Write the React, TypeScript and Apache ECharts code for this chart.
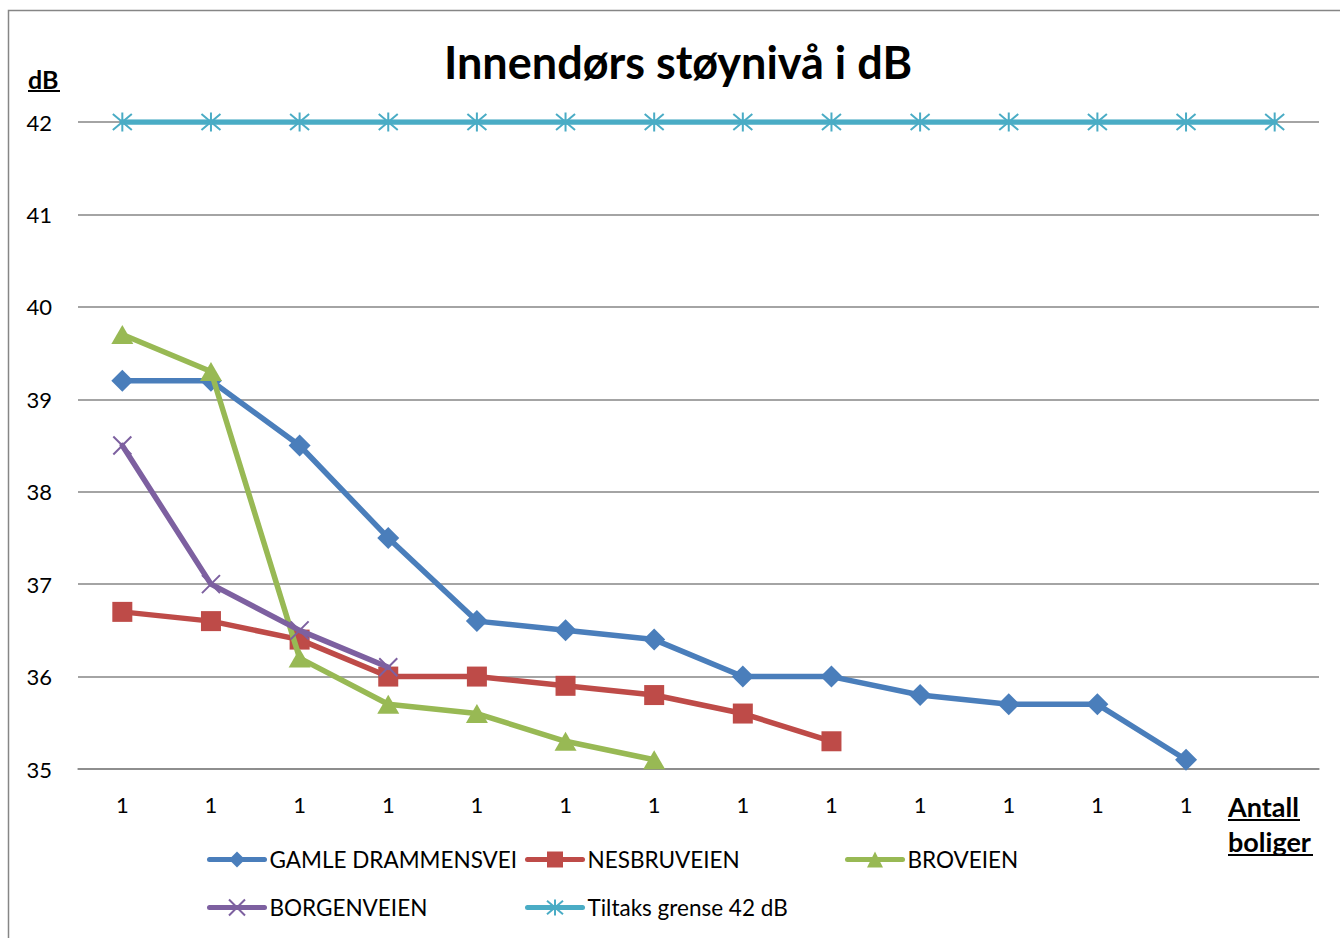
import React, { useEffect, useRef } from "react";
import * as echarts from "echarts";

const categories = ["1", "1", "1", "1", "1", "1", "1", "1", "1", "1", "1", "1", "1", ""];
const gamleDrammensvei = [39.2, 39.2, 38.5, 37.5, 36.6, 36.5, 36.4, 36.0, 36.0, 35.8, 35.7, 35.7, 35.1];
const nesbruveien = [36.7, 36.6, 36.4, 36.0, 36.0, 35.9, 35.8, 35.6, 35.3];
const broveien = [39.7, 39.3, 36.2, 35.7, 35.6, 35.3, 35.1];
const borgenveien = [38.5, 37.0, 36.5, 36.1];
const tiltaksgrense = [42, 42, 42, 42, 42, 42, 42, 42, 42, 42, 42, 42, 42, 42];
const seriesNames = ["GAMLE DRAMMENSVEI", "NESBRUVEIEN", "BROVEIEN", "BORGENVEIEN", "Tiltaks grense 42 dB"];
const yTicks = { min: 35, max: 42, interval: 1 };

const FONT = "Lato, 'Open Sans', sans-serif";
const COLORS = ["#4A7EBB", "#BE4B48", "#98B954", "#7D60A0", "#4AACC5"];
const ASTERISK = "path://M0,0L20,20M20,0L0,20M10,-2L10,22";
const CROSS = "path://M0,0L20,20M20,0L0,20";

export default function App() {
  const ref = useRef<HTMLDivElement>(null);
  useEffect(() => {
    if (!ref.current) return;
    const chart = echarts.init(ref.current, null, { renderer: "svg" });
    const lineW = 5.5;
    const mk = (idx: number, data: number[], symbol: string, size: any, extra: any = {}) => ({
      name: seriesNames[idx],
      type: "line",
      data,
      symbol,
      symbolSize: size,
      showAllSymbol: true,
      lineStyle: { color: COLORS[idx], width: lineW, cap: "round", join: "round" },
      itemStyle: { color: COLORS[idx], borderColor: COLORS[idx], borderWidth: extra.bw ?? 0 },
      emphasis: { disabled: true },
      z: 2 + idx,
    });
    const legendText = { fontFamily: FONT, fontSize: 22.5, color: "#000" };
    const legendPos = [
      [207, 848],
      [525, 848],
      [845, 848],
      [207, 896],
      [525, 896],
    ];
    chart.setOption({
      animation: false,
      backgroundColor: "#fff",
      grid: { left: 78, right: 21, top: 122, bottom: 169, containLabel: false },
      legend: seriesNames.map((n, i) => ({
        data: [n],
        left: legendPos[i][0],
        top: legendPos[i][1],
        itemWidth: 55,
        itemHeight: 20,
        itemGap: 0,
        padding: 0,
        textStyle: legendText,
        lineStyle: { width: 5, cap: "round" },
        selectedMode: false,
      })),
      xAxis: {
        type: "category",
        data: categories,
        boundaryGap: true,
        axisLine: { show: true, lineStyle: { color: "#868686", width: 1.5 } },
        axisTick: { show: false },
        axisLabel: { fontFamily: FONT, fontSize: 22, color: "#000", margin: 24, interval: 0 },
        splitLine: { show: false },
      },
      yAxis: {
        type: "value",
        min: yTicks.min,
        max: yTicks.max,
        interval: yTicks.interval,
        axisLine: { show: false },
        axisTick: { show: false },
        axisLabel: { fontFamily: FONT, fontSize: 22, color: "#000", margin: 26 },
        splitLine: { show: true, lineStyle: { color: "#868686", width: 1.5 } },
      },
      series: [
        mk(0, gamleDrammensvei, "diamond", [22, 22]),
        mk(1, nesbruveien, "rect", [20, 20]),
        mk(2, broveien, "triangle", [22, 19]),
        mk(3, borgenveien, CROSS, 18, { bw: 2 }),
        mk(4, tiltaksgrense, ASTERISK, 19, { bw: 2 }),
      ],
      graphic: [
        {
          type: "rect",
          shape: { x: 8.5, y: 10.5, width: 1400, height: 1000 },
          style: { fill: "none", stroke: "#868686", lineWidth: 1.5 },
          silent: true,
          z: -10,
        },
        {
          type: "text",
          x: 678,
          y: 62,
          style: {
            text: "Innendørs støynivå i dB",
            fontFamily: FONT,
            fontWeight: "bold",
            fontSize: 45,
            fill: "#000",
            textAlign: "center",
            textVerticalAlign: "middle",
          },
        },
        {
          type: "text",
          x: 28,
          y: 79,
          style: {
            text: "dB",
            fontFamily: FONT,
            fontWeight: "bold",
            fontSize: 25,
            fill: "#000",
            textAlign: "left",
            textVerticalAlign: "middle",
          },
        },
        { type: "line", shape: { x1: 28, y1: 91, x2: 60, y2: 91 }, style: { stroke: "#000", lineWidth: 2 } },
        {
          type: "text",
          x: 1228,
          y: 806,
          style: {
            text: "Antall",
            fontFamily: FONT,
            fontWeight: "bold",
            fontSize: 27,
            fill: "#000",
            textAlign: "left",
            textVerticalAlign: "middle",
          },
        },
        { type: "line", shape: { x1: 1228, y1: 820, x2: 1300, y2: 820 }, style: { stroke: "#000", lineWidth: 2 } },
        {
          type: "text",
          x: 1228,
          y: 841,
          style: {
            text: "boliger",
            fontFamily: FONT,
            fontWeight: "bold",
            fontSize: 27,
            fill: "#000",
            textAlign: "left",
            textVerticalAlign: "middle",
          },
        },
        { type: "line", shape: { x1: 1228, y1: 855, x2: 1313, y2: 855 }, style: { stroke: "#000", lineWidth: 2 } },
      ],
    });
    return () => chart.dispose();
  }, []);
  return <div ref={ref} style={{ position: "absolute", left: 0, top: 0, width: 1340, height: 938 }} />;
}
